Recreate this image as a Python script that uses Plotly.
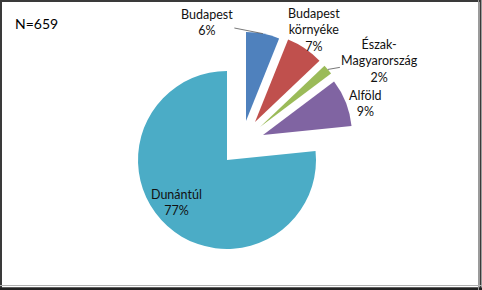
import math
import plotly.graph_objects as go

# ---- data ----
regions = ["Budapest", "Budapest<br>környéke", "Észak-<br>Magyarország", "Alföld", "Dunántúl"]
counts = [40, 45, 12, 57, 505]          # N = 659
pct_text = ["6%", "7%", "2%", "9%", "77%"]
colors = ["#4F81BD", "#C0504D", "#9BBB59", "#8064A2", "#4BACC6"]
n_label = "N=659"

# ---- style / geometry ----
W, H = 482, 290
CX, CY = 227, 160        # pie centre in px
R = 89                   # pie radius in px
# explode offset of each slice (px, screen coords)
explode = [(19, -39), (28, -38), (33, -33), (36, -25), (0, 0)]
FONT = "Lato"
TXT = dict(family=FONT, size=12.5, color="#111111")

fig = go.Figure()
for i in range(len(counts)):
    ox, oy = explode[i]
    cx, cy = CX + ox, CY + oy
    cols = [c if j == i else "rgba(0,0,0,0)" for j, c in enumerate(colors)]
    fig.add_trace(go.Pie(
        labels=[r.replace("<br>", " ") for r in regions],
        values=counts,
        sort=False,
        direction="clockwise",
        rotation=0,
        marker=dict(colors=cols, line=dict(width=0)),
        textinfo="none",
        hoverinfo="skip",
        showlegend=False,
        domain=dict(x=[(cx - R) / W, (cx + R) / W],
                    y=[1 - (cy + R) / H, 1 - (cy - R) / H]),
    ))

# label placement: (radial fraction of anchor, dx px, dy px, arrow)
label_style = [
    (1.0, -56, -11, True),
    (1.0, 9, -18, False),
    (1.0, 52, -9, True),
    (1.0, 20, 1, False),
    (0.74, -6, -6, False),
]

total = sum(counts)
cum = 0
annotations = []
for i, v in enumerate(counts):
    a0 = cum / total * 360
    cum += v
    a1 = cum / total * 360
    am = math.radians((a0 + a1) / 2)
    sx, sy = math.sin(am), -math.cos(am)
    ox, oy = explode[i]
    frac, dx, dy, arrow = label_style[i]
    px = CX + ox + frac * R * sx
    py = CY + oy + frac * R * sy
    txt = f"{regions[i]}<br>{pct_text[i]}"
    if arrow:
        annotations.append(dict(
            x=px / W, y=1 - py / H, xref="paper", yref="paper",
            text=txt, showarrow=True, ax=dx, ay=dy,
            arrowhead=0, arrowwidth=0.8, arrowcolor="#555555", standoff=0,
            font=TXT, align="center",
        ))
    else:
        annotations.append(dict(
            x=(px + dx) / W, y=1 - (py + dy) / H, xref="paper", yref="paper",
            text=txt, showarrow=False, xanchor="center", yanchor="middle",
            font=TXT, align="center",
        ))

annotations.append(dict(
    x=13 / W, y=1 - 24 / H, xref="paper", yref="paper", text=n_label,
    showarrow=False, xanchor="left", yanchor="middle",
    font=dict(family=FONT, size=14, color="#000000"),
))

shapes = [
    dict(type="rect", xref="paper", yref="paper", x0=1 / W, x1=1 - 1.5 / W,
         y0=1.5 / H, y1=1 - 1 / H, line=dict(color="#3a3a3a", width=2)),
    dict(type="line", xref="paper", yref="paper", x0=0, x1=1,
         y0=1 / H, y1=1 / H, line=dict(color="#222222", width=3)),
    dict(type="line", xref="paper", yref="paper", x0=1 - 3.5 / W, x1=1 - 3.5 / W,
         y0=0, y1=1, line=dict(color="#9a9a9a", width=1)),
    dict(type="line", xref="paper", yref="paper", x0=0, x1=1,
         y0=4.5 / H, y1=4.5 / H, line=dict(color="#b0b0b0", width=1)),
]

fig.update_layout(
    width=W, height=H,
    margin=dict(l=0, r=0, t=0, b=0),
    paper_bgcolor="white", plot_bgcolor="white",
    annotations=annotations, shapes=shapes,
    font=dict(family=FONT),
)

fig.write_html("out.html")
